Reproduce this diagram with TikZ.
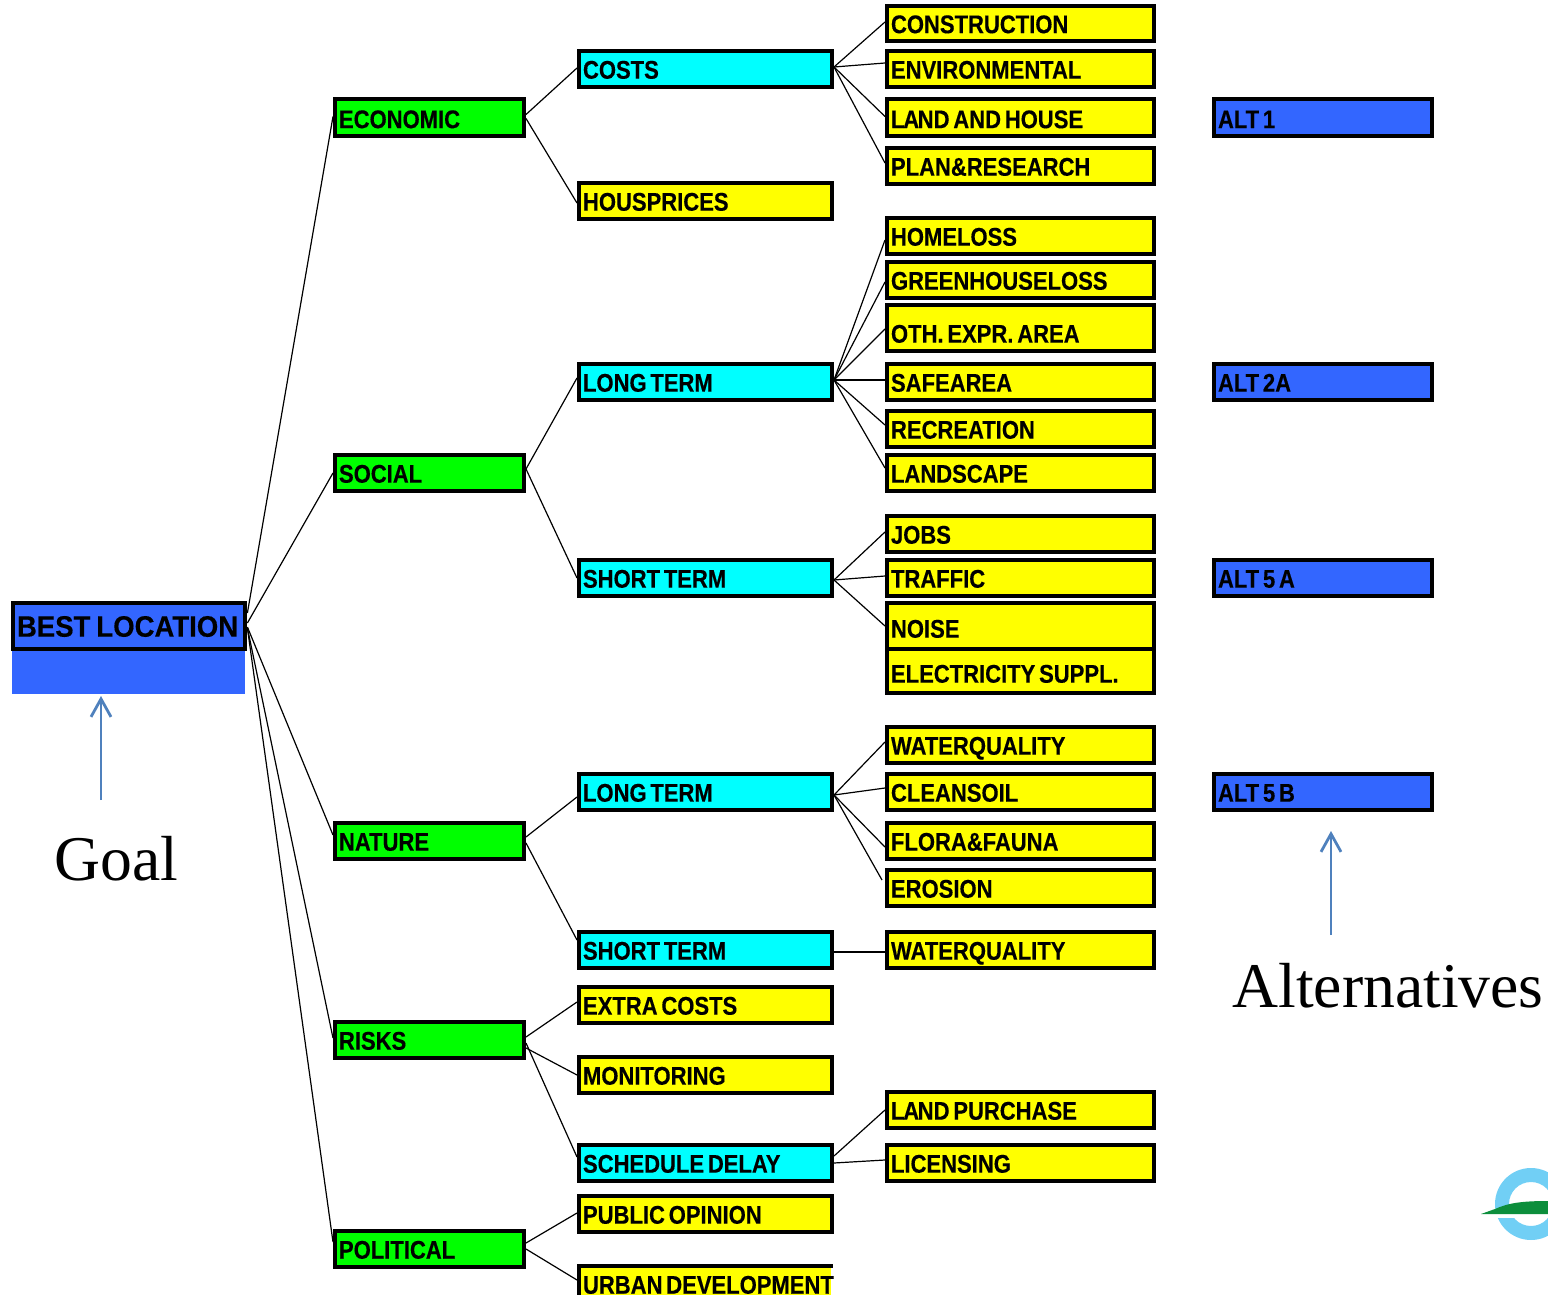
\documentclass[tikz,border=0pt]{standalone}
\usepackage{fontspec}
\usetikzlibrary{arrows.meta}
\setmainfont{Liberation Serif}
\newfontfamily\labf{Liberation Sans}[FakeStretch=0.86,FakeBold=0.3]
\newfontfamily\labg{Liberation Sans}[FakeStretch=0.93,FakeBold=0.3]
\definecolor{altblue}{HTML}{3366FF}
\definecolor{arrowblue}{HTML}{4F81BD}
\definecolor{ringblue}{HTML}{71CFF5}
\definecolor{moundgreen}{HTML}{0C8E3C}
\definecolor{purecyan}{RGB}{0,255,255}
\definecolor{pureyellow}{RGB}{255,255,0}
\definecolor{puregreen}{RGB}{0,255,0}
\newcommand{\wsp}{\hspace{1.9pt}}
\newcommand{\bx}[7]{%
  \pgfmathsetmacro{\cxx}{(#2+#4)/2}\pgfmathsetmacro{\cyy}{(#3+#5)/2}%
  \pgfmathsetlengthmacro{\wdd}{(#4-#2-4)*0.5pt}\pgfmathsetlengthmacro{\htt}{(#5-#3-4)*0.5pt}%
  \pgfmathsetlengthmacro{\twd}{(#4-#2-12)*0.5pt}%
  \node[boxbase,#6,minimum width=\wdd,minimum height=\htt,text width=\twd] (#1) at (\cxx,\cyy) {\mbox{#7}};}
\newcommand{\lnk}[4]{\draw[conn] ([shift={(0,#2)}]#1.east) -- ([shift={(0,#4)}]#3.west);}
\newcommand{\tightland}{L\kern-.6pt A\kern-.7pt ND}
\tikzset{
  boxbase/.style={draw=black,line width=2pt,inner xsep=2pt,inner ysep=0pt,align=left,
    text height=9.7pt,text depth=0pt,font=\labf\bfseries\fontsize{12.8}{14}\selectfont},
  goalbox/.style={fill=altblue},
  green box/.style={fill=puregreen},
  cyan box/.style={fill=purecyan},
  yellow box/.style={fill=pureyellow},
  alt box/.style={fill=altblue},
  conn/.style={draw=black,line width=0.6pt},
  bigtext/.style={font=\fontsize{31.85}{36}\selectfont,inner sep=0pt,text=black},
  callout/.style={draw=arrowblue,line width=1.4pt,-{Straight Barb[length=9pt,width=10pt,line width=1.4pt]}}
}
\begin{document}
\begin{tikzpicture}[x=0.5pt,y=-0.5pt]
\clip (0,0) rectangle (1548,1295);
% logo
\fill[ringblue,even odd rule] (1531,1204) circle[radius=36] (1531,1204) circle[radius=22];
\fill[white] (1480,1213) rectangle (1548,1218);
\fill[moundgreen] (1481,1214) -- (1495,1209) .. controls (1508,1203) and (1522,1201) .. (1548,1201) -- (1548,1214) -- cycle;
% goal block
\node[fill=altblue,inner sep=0pt,minimum width=116.5pt,minimum height=21.5pt] (goalbase) at (128.5,672.5) {};
\bx{best}{11}{601}{247}{651}{goalbox,line width=2.4pt}{\raisebox{-0.5pt}{\labg\bfseries\fontsize{14.8}{16}\selectfont BEST\hspace{3pt}LOCATION}}
% level 2
\bx{econ}{333}{97}{526}{138}{green box}{\raisebox{-0.5pt}{ECONOMIC}}
\bx{soc}{333}{453}{526}{493}{green box}{SOCIAL}
\bx{nat}{333}{821}{526}{861}{green box}{NATURE}
\bx{risk}{333}{1020}{526}{1060}{green box}{RISKS}
\bx{pol}{333}{1229}{526}{1269}{green box}{POLITICAL}
% level 3
\bx{costs}{577}{49}{834}{89}{cyan box}{COSTS}
\bx{hous}{577}{181}{834}{221}{yellow box}{HOUSPRICES}
\bx{ltA}{577}{362}{834}{402}{cyan box}{LONG\wsp TERM}
\bx{stA}{577}{558}{834}{598}{cyan box}{SHORT\wsp TERM}
\bx{ltB}{577}{772}{834}{812}{cyan box}{LONG\wsp TERM}
\bx{stB}{577}{930}{834}{970}{cyan box}{SHORT\wsp TERM}
\bx{extra}{577}{985}{834}{1025}{yellow box}{EXTRA\wsp COSTS}
\bx{mon}{577}{1055}{834}{1095}{yellow box}{MONITORING}
\bx{sched}{577}{1143}{834}{1183}{cyan box}{SCHEDULE\wsp DELAY}
\bx{pub}{577}{1194}{834}{1234}{yellow box}{PUBLIC\wsp OPINION}
\bx{urb}{577}{1264}{833}{1304}{yellow box,draw=none}{URBAN\wsp DEVELOPMENT}
\draw[line width=2pt,draw=black] ([xshift=1pt]urb.south west) -- ([xshift=1pt]urb.north west);
\draw[line width=2pt,draw=black] ([yshift=-1pt]urb.north west) -- ([yshift=-1pt]urb.north east);
% level 4
\bx{con}{885}{4}{1156}{43}{yellow box}{CONSTRUCTION}
\bx{env}{885}{49}{1156}{89}{yellow box}{ENVIRONMENTAL}
\bx{land}{885}{97}{1156}{138}{yellow box}{\raisebox{-0.5pt}{\tightland\wsp AND\wsp HOUSE}}
\bx{plan}{885}{146}{1156}{186}{yellow box}{PLAN\&RESEARCH}
\bx{home}{885}{216}{1156}{256}{yellow box}{HOMELOSS}
\bx{gree}{885}{260}{1156}{300}{yellow box}{GREENHOUSELOSS}
\bx{oth}{885}{303}{1156}{353}{yellow box}{\raisebox{-2.5pt}{OTH.\wsp EXPR.\wsp AREA}}
\bx{safe}{885}{362}{1156}{402}{yellow box}{SAFEAREA}
\bx{recr}{885}{409}{1156}{449}{yellow box}{RECREATION}
\bx{scape}{885}{453}{1156}{493}{yellow box}{LANDSCAPE}
\bx{jobs}{885}{514}{1156}{554}{yellow box}{JOBS}
\bx{traf}{885}{558}{1156}{598}{yellow box}{TRAFFIC}
\bx{noise}{885}{601}{1156}{651}{yellow box}{\raisebox{-1pt}{NOISE}}
\bx{elec}{885}{647}{1156}{695}{yellow box}{\raisebox{-1pt}{ELECTRICITY\wsp SUPPL.}}
\bx{wqA}{885}{725}{1156}{765}{yellow box}{WATERQUALITY}
\bx{clean}{885}{772}{1156}{812}{yellow box}{CLEANSOIL}
\bx{flora}{885}{821}{1156}{861}{yellow box}{FLORA\&FAUNA}
\bx{eros}{885}{868}{1156}{908}{yellow box}{EROSION}
\bx{wqB}{885}{930}{1156}{970}{yellow box}{WATERQUALITY}
\bx{purch}{885}{1090}{1156}{1130}{yellow box}{\tightland\wsp PURCHASE}
\bx{lic}{885}{1143}{1156}{1183}{yellow box}{LICENSING}
% alternatives
\bx{alta}{1212}{97}{1434}{138}{alt box}{\raisebox{-0.5pt}{ALT\wsp 1}}
\bx{altb}{1212}{362}{1434}{402}{alt box}{ALT\wsp 2A}
\bx{altc}{1212}{558}{1434}{598}{alt box}{ALT\wsp 5\wsp A}
\bx{altd}{1212}{772}{1434}{812}{alt box}{ALT\wsp 5\wsp B}
% connectors from goal
\lnk{best}{-13}{econ}{-1}
\lnk{best}{-3}{soc}{0}
\lnk{best}{1}{nat}{-6}
\lnk{best}{2}{risk}{-2}
\lnk{best}{2}{pol}{-7}
% level 2 to 3
\lnk{econ}{-3}{costs}{-1}
\lnk{econ}{1}{hous}{2}
\lnk{soc}{-4}{ltA}{-4}
\lnk{soc}{-4}{stA}{0}
\lnk{nat}{-4}{ltB}{5}
\lnk{nat}{2}{stB}{-10}
\lnk{risk}{-3}{extra}{-3}
\lnk{risk}{8}{mon}{0}
\lnk{risk}{3}{sched}{-6}
\lnk{pol}{-6}{pub}{-1}
\lnk{pol}{0}{urb}{-4}
% level 3 to 4
\lnk{costs}{-2}{con}{-1.5}
\lnk{costs}{-2}{env}{-6}
\lnk{costs}{-2}{land}{-1}
\lnk{costs}{-2}{plan}{-3}
\lnk{ltA}{-2}{home}{4}
\lnk{ltA}{-2}{gree}{2}
\lnk{ltA}{-2}{oth}{1}
\lnk{ltA}{-2}{safe}{-2}
\lnk{ltA}{-2}{recr}{-4}
\lnk{ltA}{-2}{scape}{-5}
\lnk{stA}{2}{jobs}{-2}
\lnk{stA}{2}{traf}{-2}
\lnk{stA}{2}{noise}{0}
\lnk{ltB}{3}{wqA}{-3}
\lnk{ltB}{3}{clean}{-4}
\lnk{ltB}{3}{flora}{6}
\draw[conn] ([shift={(0,3)}]ltB.east) -- ([shift={(-3,-8)}]eros.west);
\lnk{stB}{2}{wqB}{2}
\lnk{sched}{-7}{purch}{0}
\lnk{sched}{0}{lic}{-3}
% callouts
\node[bigtext,anchor=base west] (goal) at (54,880) {Goal};
\node[bigtext,anchor=base west] (alts) at (1232,1007) {Alternatives};
\coordinate (gb) at (101,800);
\coordinate (gt) at (101,696);
\coordinate (ab) at (1331,935);
\coordinate (at2) at (1331,831);
\draw[callout] (gb) -- (gt);
\draw[callout] (ab) -- (at2);
\end{tikzpicture}
\end{document}
